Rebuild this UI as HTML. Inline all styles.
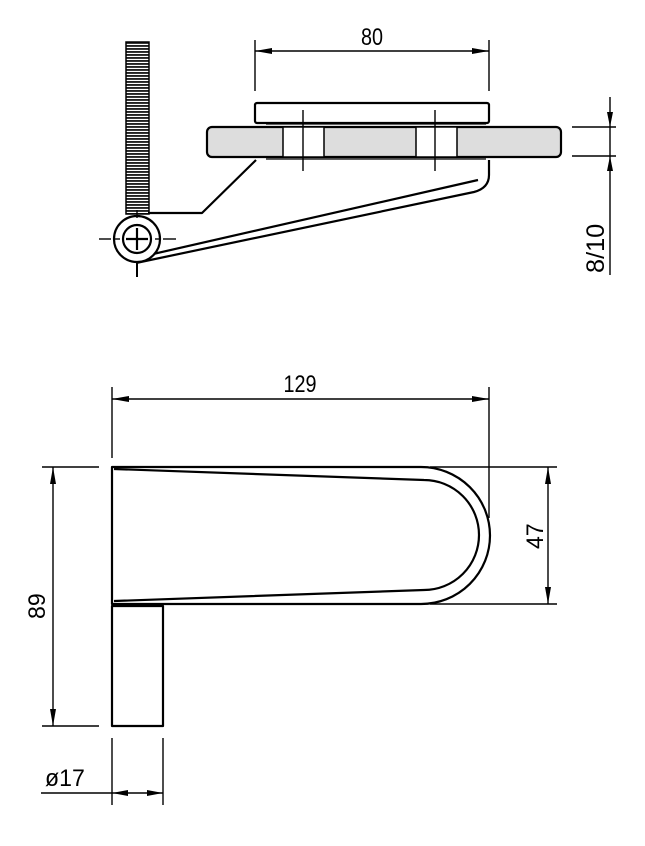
<!DOCTYPE html>
<html><head><meta charset="utf-8"><style>
html,body{margin:0;padding:0;background:#fff;}
svg{display:block;}
text{font-family:"Liberation Sans",sans-serif;fill:#000;}
</style></head><body>
<svg width="645" height="846" viewBox="0 0 645 846" xmlns="http://www.w3.org/2000/svg">
<defs>
<pattern id="th" width="4" height="3" patternUnits="userSpaceOnUse">
<rect width="4" height="3" fill="#fff"/><rect y="0" width="4" height="1.9" fill="#222"/>
</pattern>
</defs>
<g stroke="#000" fill="none" stroke-width="1.4">
<line x1="255" y1="40" x2="255" y2="91"/>
<line x1="489" y1="40" x2="489" y2="91"/>
<line x1="255" y1="51" x2="489" y2="51"/>
</g>
<polygon points="255,51 272,48 272,54" fill="#000"/>
<polygon points="489,51 472,48 472,54" fill="#000"/>
<text transform="translate(372,45) scale(0.9,1.1)" font-size="22" text-anchor="middle">80</text>

<rect x="126" y="42" width="23" height="172" fill="url(#th)" stroke="#000" stroke-width="1.5"/>

<g stroke="#000" stroke-width="2.2" fill="none" stroke-linejoin="round">
<rect x="255" y="103" width="234" height="20" rx="2" fill="#fff"/>
<rect x="207" y="127" width="354" height="30" rx="5" fill="#ddd"/>
<rect x="283" y="127" width="41" height="30" fill="#fff" stroke-width="1.5"/>
<rect x="416" y="127" width="41" height="30" fill="#fff" stroke-width="1.5"/>
<line x1="266" y1="124" x2="486" y2="124" stroke-width="1.2"/>
<line x1="266" y1="159" x2="486" y2="159" stroke-width="1.2"/>
<path d="M256,160 L202,213 L148,213"/>
<path d="M489,160 L489,175 Q489,188 474,192 L136,263"/>
<path d="M478,180 L140,257"/>
<circle cx="137" cy="239" r="23" fill="#fff"/>
<circle cx="137" cy="239" r="14"/>
<line x1="126" y1="239" x2="148" y2="239"/>
<line x1="137" y1="228" x2="137" y2="250"/>
</g>
<g stroke="#000" stroke-width="1.4">
<line x1="303" y1="110" x2="303" y2="171"/>
<line x1="435" y1="110" x2="435" y2="171"/>
<line x1="99" y1="239" x2="111" y2="239"/>
<line x1="114" y1="239" x2="120" y2="239"/>
<line x1="155" y1="239" x2="160" y2="239"/>
<line x1="163" y1="239" x2="176" y2="239"/>
<line x1="137" y1="210" x2="137" y2="218"/>
<line x1="137" y1="262" x2="137" y2="277" stroke-width="2"/>
<line x1="572" y1="127" x2="616" y2="127"/>
<line x1="572" y1="156" x2="616" y2="156"/>
<line x1="610" y1="97" x2="610" y2="275"/>
</g>
<polygon points="610,127 607,112 613,112" fill="#000"/>
<polygon points="610,156 607,171 613,171" fill="#000"/>
<text transform="translate(604,273) rotate(-90) scale(1.15,1.15)" font-size="22">8/10</text>

<g stroke="#000" stroke-width="1.4">
<line x1="112" y1="387" x2="112" y2="458"/>
<line x1="489" y1="387" x2="489" y2="518"/>
<line x1="112" y1="399" x2="489" y2="399"/>
</g>
<polygon points="112,399 129,396 129,402" fill="#000"/>
<polygon points="489,399 472,396 472,402" fill="#000"/>
<text transform="translate(300,392) scale(0.9,1.1)" font-size="22" text-anchor="middle">129</text>

<g stroke="#000" stroke-width="2.2" fill="none" stroke-linejoin="round">
<path d="M112,467 L421,467 A69,68.5 0 0 1 421,604 L112,604 Z"/>
<path d="M114,469 L424,480 A55,55 0 0 1 424,590 L114,601"/>
<rect x="112" y="606" width="51" height="120"/>
</g>
<g stroke="#000" stroke-width="1.4">
<line x1="430" y1="467" x2="557" y2="467"/>
<line x1="430" y1="604" x2="557" y2="604"/>
<line x1="548" y1="467" x2="548" y2="604"/>
<line x1="42" y1="467" x2="99" y2="467"/>
<line x1="42" y1="726" x2="99" y2="726"/>
<line x1="53" y1="467" x2="53" y2="726"/>
<line x1="112" y1="738" x2="112" y2="805"/>
<line x1="163" y1="738" x2="163" y2="805"/>
<line x1="41" y1="793" x2="163" y2="793"/>
</g>
<polygon points="548,467 545,484 551,484" fill="#000"/>
<polygon points="548,604 545,587 551,587" fill="#000"/>
<polygon points="53,467 50,484 56,484" fill="#000"/>
<polygon points="53,726 50,709 56,709" fill="#000"/>
<polygon points="112,793 128,790 128,796" fill="#000"/>
<polygon points="163,793 147,790 147,796" fill="#000"/>
<text transform="translate(543,549) rotate(-90) scale(1.05,1.1)" font-size="22">47</text>
<text transform="translate(45,619) rotate(-90) scale(1.05,1.1)" font-size="22">89</text>
<text transform="translate(45,786) scale(1.05,1.1)" font-size="22">ø17</text>
</svg>
</body></html>
